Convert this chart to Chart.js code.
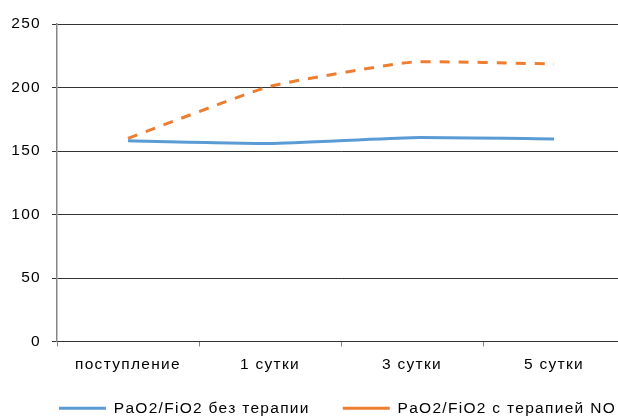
<!DOCTYPE html>
<html>
<head>
<meta charset="utf-8">
<script src="https://cdn.jsdelivr.net/npm/chart.js@4"></script>
<style>
html,body{margin:0;padding:0;background:#fff;overflow:hidden;width:618px;height:417px;}
#wrap{position:absolute;left:0;top:0;width:625px;height:432px;}
</style>
</head>
<body>
<div id="wrap"><canvas id="c"></canvas></div>
<script>
const categories = ['поступление', '1 сутки', '3 сутки', '5 сутки'];
const seriesNames = ['PaO2/FiO2 без терапии', 'PaO2/FiO2 с терапией NO'];
const withoutTherapy = [158, 156, 160.5, 159.5];
const withNO = [160, 201, 220, 218.5];
const yTicks = [0, 50, 100, 150, 200, 250];

const FONT = {family: '"Liberation Sans", Arial, sans-serif', size: 15.5};
const LETTER_SPACING = '1.3px';
const LEGEND_SHIFT_X = 25;
const LEGEND_SHIFT_Y = -6;

const spacingPlugin = {
  id: 'spacing',
  beforeUpdate: c => { c.ctx.letterSpacing = LETTER_SPACING; },
  beforeLayout: c => { c.ctx.letterSpacing = LETTER_SPACING; },
  beforeDraw: c => { c.ctx.letterSpacing = LETTER_SPACING; },
  afterLayout: c => {
    const lg = c.legend;
    if (!lg) return;
    lg.left += LEGEND_SHIFT_X; lg.right += LEGEND_SHIFT_X;
    lg.top += LEGEND_SHIFT_Y; lg.bottom += LEGEND_SHIFT_Y;
  }
};

new Chart(document.getElementById('c'), {
  type: 'line',
  data: {
    labels: categories,
    datasets: [
      {label: seriesNames[0], data: withoutTherapy, borderColor: '#5B9BD5', backgroundColor: '#5B9BD5',
       borderWidth: 3, pointRadius: 0, tension: 0.15, fill: false},
      {label: seriesNames[1], data: withNO, borderColor: '#ED7D31', backgroundColor: '#ED7D31',
       borderWidth: 3, borderDash: [10, 9], pointRadius: 0, tension: 0.12, fill: false}
    ]
  },
  plugins: [spacingPlugin],
  options: {
    responsive: true,
    maintainAspectRatio: false,
    animation: false,
    devicePixelRatio: 1,
    layout: {padding: {top: 24, left: 0, right: 0, bottom: 0}},
    plugins: {
      tooltip: {enabled: false},
      legend: {
        position: 'bottom',
        labels: {
          usePointStyle: true,
          pointStyle: 'line',
          pointStyleWidth: 47,
          padding: 33,
          color: '#000',
          font: FONT,
          generateLabels: chart => {
            const items = Chart.defaults.plugins.legend.labels.generateLabels(chart);
            items.forEach(it => { if (it.lineDash && it.lineDash.length) it.lineDash = [9, 5]; });
            return items;
          }
        }
      }
    },
    scales: {
      x: {
        offset: true,
        afterFit: s => { s.height = 32; },
        grid: {display: true, drawOnChartArea: false, drawTicks: true, offset: true, tickLength: 5, color: '#868686'},
        border: {display: true, color: '#333', width: 1},
        ticks: {color: '#000', font: FONT, padding: 9, maxRotation: 0}
      },
      y: {
        min: 0, max: 250,
        afterFit: s => { s.width = 57; },
        afterBuildTicks: s => { s.ticks = yTicks.map(v => ({value: v})); },
        grid: {color: '#333', tickLength: 5, drawTicks: true},
        border: {display: true, color: '#868686', width: 1.5},
        ticks: {color: '#000', font: FONT, padding: 11}
      }
    }
  }
});
</script>
</body>
</html>
